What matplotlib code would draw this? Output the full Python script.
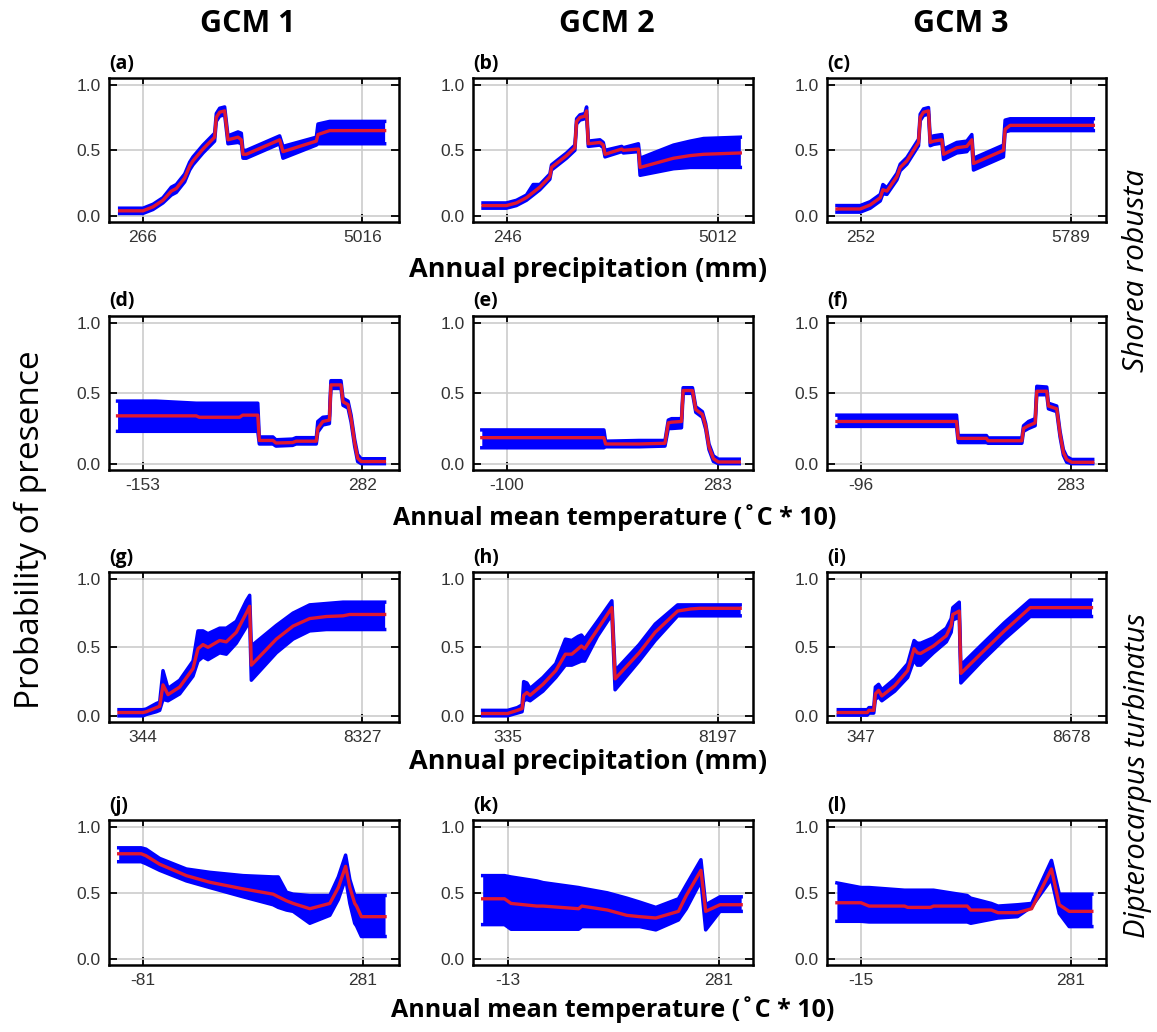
import numpy as np
import matplotlib
matplotlib.use('Agg')
import matplotlib.pyplot as plt

plt.rcParams['axes.unicode_minus'] = False

# response curves: x (variable units), mean, lower, upper
a_x = [-239, 266, 483, 699, 880, 988, 1169, 1277, 1349, 1566, 1818, 1854, 1927, 2035, 2107, 2324, 2396, 2432, 2504, 3226, 3298, 4020, 4056, 4309, 5500]
a_m = [0.04, 0.04, 0.07, 0.12, 0.19, 0.21, 0.29, 0.38, 0.42, 0.51, 0.60, 0.75, 0.79, 0.80, 0.58, 0.60, 0.58, 0.47, 0.47, 0.58, 0.49, 0.57, 0.62, 0.65, 0.65]
a_lo = [0.02, 0.02, 0.05, 0.10, 0.16, 0.18, 0.26, 0.35, 0.39, 0.48, 0.57, 0.72, 0.76, 0.77, 0.55, 0.56, 0.55, 0.44, 0.44, 0.55, 0.44, 0.54, 0.55, 0.55, 0.55]
a_hi = [0.06, 0.06, 0.09, 0.14, 0.22, 0.24, 0.32, 0.41, 0.45, 0.54, 0.63, 0.78, 0.82, 0.83, 0.61, 0.64, 0.63, 0.50, 0.50, 0.61, 0.53, 0.60, 0.70, 0.72, 0.72]

b_x = [-306, 223, 450, 677, 829, 980, 1207, 1245, 1320, 1585, 1774, 1812, 1888, 1999, 2039, 2077, 2341, 2417, 2455, 2833, 2871, 3212, 3249, 4006, 4384, 4687, 5519]
b_m = [0.08, 0.08, 0.10, 0.14, 0.18, 0.22, 0.30, 0.37, 0.39, 0.46, 0.52, 0.72, 0.75, 0.76, 0.80, 0.55, 0.56, 0.54, 0.47, 0.51, 0.50, 0.51, 0.37, 0.44, 0.46, 0.47, 0.48]
b_lo = [0.06, 0.06, 0.08, 0.12, 0.16, 0.20, 0.28, 0.35, 0.37, 0.44, 0.50, 0.70, 0.73, 0.74, 0.77, 0.53, 0.54, 0.52, 0.45, 0.49, 0.48, 0.49, 0.31, 0.36, 0.37, 0.37, 0.37]
b_hi = [0.10, 0.10, 0.12, 0.16, 0.24, 0.24, 0.32, 0.39, 0.41, 0.48, 0.54, 0.74, 0.77, 0.78, 0.83, 0.57, 0.58, 0.56, 0.50, 0.53, 0.52, 0.55, 0.44, 0.54, 0.57, 0.59, 0.60]

c_x = [-381, 234, 498, 762, 832, 938, 1201, 1289, 1465, 1772, 1816, 1904, 2036, 2080, 2168, 2388, 2432, 2783, 3047, 3179, 3223, 4014, 4058, 4190, 6387]
c_m = [0.054, 0.054, 0.085, 0.14, 0.20, 0.19, 0.30, 0.37, 0.42, 0.56, 0.75, 0.79, 0.80, 0.56, 0.57, 0.58, 0.47, 0.52, 0.53, 0.58, 0.40, 0.50, 0.66, 0.69, 0.69]
c_lo = [0.03, 0.03, 0.06, 0.115, 0.17, 0.165, 0.275, 0.345, 0.395, 0.535, 0.725, 0.765, 0.775, 0.535, 0.545, 0.555, 0.43, 0.48, 0.49, 0.54, 0.35, 0.45, 0.64, 0.65, 0.65]
c_hi = [0.08, 0.08, 0.11, 0.165, 0.24, 0.215, 0.325, 0.395, 0.445, 0.585, 0.775, 0.815, 0.825, 0.60, 0.61, 0.62, 0.51, 0.56, 0.57, 0.62, 0.44, 0.54, 0.73, 0.74, 0.74]

d_x = [-203, -127, -47, -41, 39, 45, 75, 78, 105, 111, 144, 151, 191, 194, 204, 217, 220, 240, 244, 254, 260, 267, 273, 280, 326]
d_m = [0.34, 0.34, 0.34, 0.33, 0.33, 0.345, 0.345, 0.165, 0.165, 0.147, 0.15, 0.16, 0.16, 0.25, 0.30, 0.31, 0.56, 0.56, 0.44, 0.42, 0.32, 0.15, 0.04, 0.015, 0.015]
d_lo = [0.23, 0.23, 0.23, 0.23, 0.23, 0.23, 0.23, 0.14, 0.14, 0.125, 0.13, 0.14, 0.14, 0.225, 0.275, 0.285, 0.535, 0.535, 0.415, 0.395, 0.295, 0.125, 0.015, 0.0, 0.0]
d_hi = [0.445, 0.445, 0.43, 0.43, 0.43, 0.43, 0.43, 0.19, 0.19, 0.17, 0.175, 0.185, 0.185, 0.30, 0.33, 0.335, 0.59, 0.59, 0.465, 0.445, 0.345, 0.175, 0.065, 0.035, 0.035]

e_x = [-146, 76, 79, 140, 187, 193, 199, 217, 220, 237, 243, 255, 261, 267, 275, 284, 322]
e_m = [0.185, 0.185, 0.14, 0.14, 0.145, 0.29, 0.295, 0.30, 0.52, 0.52, 0.385, 0.35, 0.265, 0.12, 0.036, 0.012, 0.012]
e_lo = [0.113, 0.113, 0.12, 0.12, 0.125, 0.25, 0.25, 0.255, 0.50, 0.50, 0.365, 0.33, 0.245, 0.10, 0.016, 0.0, 0.0]
e_hi = [0.24, 0.24, 0.16, 0.165, 0.165, 0.31, 0.32, 0.32, 0.54, 0.54, 0.405, 0.37, 0.285, 0.14, 0.056, 0.032, 0.032]

f_x = [-139, 77, 80, 131, 134, 195, 198, 207, 219, 222, 240, 243, 258, 264, 270, 276, 285, 323]
f_m = [0.30, 0.30, 0.18, 0.18, 0.163, 0.163, 0.25, 0.27, 0.29, 0.515, 0.515, 0.41, 0.39, 0.21, 0.08, 0.03, 0.01, 0.01]
f_lo = [0.265, 0.265, 0.15, 0.15, 0.145, 0.145, 0.23, 0.25, 0.27, 0.49, 0.49, 0.39, 0.37, 0.19, 0.06, 0.01, 0.0, 0.0]
f_hi = [0.345, 0.345, 0.20, 0.20, 0.183, 0.183, 0.27, 0.30, 0.32, 0.55, 0.545, 0.43, 0.41, 0.23, 0.10, 0.05, 0.03, 0.03]

g_x = [-529, 344, 465, 829, 951, 1072, 1254, 1678, 2164, 2345, 2527, 2709, 3134, 3377, 3740, 4104, 4226, 4286, 5196, 5803, 6409, 7016, 7622, 7865, 9138]
g_m = [0.024, 0.024, 0.03, 0.06, 0.07, 0.226, 0.155, 0.21, 0.345, 0.49, 0.52, 0.50, 0.55, 0.54, 0.61, 0.75, 0.80, 0.37, 0.56, 0.655, 0.71, 0.725, 0.73, 0.74, 0.74]
g_lo = [0.0, 0.0, 0.01, 0.03, 0.04, 0.12, 0.11, 0.16, 0.29, 0.40, 0.43, 0.41, 0.46, 0.45, 0.53, 0.65, 0.70, 0.26, 0.46, 0.56, 0.62, 0.63, 0.63, 0.63, 0.63]
g_hi = [0.045, 0.045, 0.05, 0.09, 0.10, 0.33, 0.20, 0.26, 0.40, 0.62, 0.62, 0.60, 0.64, 0.64, 0.69, 0.84, 0.88, 0.51, 0.66, 0.75, 0.81, 0.82, 0.83, 0.83, 0.83]

h_x = [-601, 335, 695, 875, 935, 1055, 1175, 1655, 2135, 2495, 2735, 2975, 3095, 3215, 3695, 4235, 4355, 5255, 5855, 6695, 7175, 7535, 9035]
h_m = [0.017, 0.017, 0.04, 0.053, 0.15, 0.17, 0.15, 0.23, 0.33, 0.45, 0.45, 0.49, 0.51, 0.49, 0.63, 0.79, 0.27, 0.46, 0.61, 0.765, 0.78, 0.785, 0.785]
h_lo = [0.0, 0.0, 0.02, 0.03, 0.11, 0.12, 0.11, 0.18, 0.28, 0.37, 0.37, 0.39, 0.40, 0.40, 0.58, 0.74, 0.19, 0.40, 0.55, 0.73, 0.73, 0.73, 0.73]
h_hi = [0.04, 0.04, 0.06, 0.08, 0.25, 0.24, 0.20, 0.28, 0.38, 0.56, 0.55, 0.58, 0.59, 0.56, 0.69, 0.84, 0.33, 0.52, 0.67, 0.81, 0.81, 0.81, 0.81]

i_x = [-546, 602, 666, 857, 921, 1049, 1176, 1687, 2197, 2452, 2580, 2708, 3218, 3728, 3920, 3984, 4239, 4303, 5132, 6025, 7046, 9470]
i_m = [0.024, 0.024, 0.04, 0.04, 0.16, 0.186, 0.145, 0.22, 0.33, 0.49, 0.46, 0.455, 0.51, 0.585, 0.66, 0.74, 0.765, 0.31, 0.46, 0.62, 0.79, 0.79]
i_lo = [0.005, 0.005, 0.02, 0.02, 0.12, 0.14, 0.11, 0.18, 0.28, 0.41, 0.37, 0.37, 0.46, 0.54, 0.61, 0.70, 0.72, 0.24, 0.40, 0.56, 0.725, 0.725]
i_hi = [0.045, 0.045, 0.06, 0.06, 0.21, 0.23, 0.19, 0.27, 0.38, 0.55, 0.53, 0.53, 0.57, 0.64, 0.71, 0.79, 0.83, 0.37, 0.52, 0.68, 0.845, 0.845]

j_x = [-121, -84, -76, -53.5, -9.5, 29, 84, 133.5, 142, 155.5, 166.5, 194, 227, 241, 253, 260, 268, 271, 279, 318]
j_m = [0.795, 0.795, 0.78, 0.716, 0.63, 0.58, 0.53, 0.49, 0.47, 0.44, 0.42, 0.38, 0.42, 0.54, 0.70, 0.54, 0.42, 0.40, 0.32, 0.32]
j_lo = [0.735, 0.735, 0.72, 0.67, 0.59, 0.54, 0.47, 0.41, 0.39, 0.37, 0.36, 0.27, 0.33, 0.45, 0.61, 0.42, 0.27, 0.25, 0.17, 0.17]
j_hi = [0.84, 0.84, 0.83, 0.76, 0.68, 0.655, 0.63, 0.62, 0.62, 0.505, 0.49, 0.48, 0.48, 0.62, 0.785, 0.60, 0.48, 0.48, 0.48, 0.48]

k_x = [-48, -17.5, -8.5, 27.4, 36.4, 85.8, 90.3, 126, 153, 171, 193.5, 225, 236, 256.4, 263, 283, 312.5]
k_m = [0.455, 0.455, 0.42, 0.40, 0.40, 0.38, 0.40, 0.37, 0.33, 0.32, 0.31, 0.36, 0.48, 0.67, 0.36, 0.41, 0.41]
k_lo = [0.26, 0.26, 0.225, 0.225, 0.225, 0.225, 0.245, 0.245, 0.245, 0.245, 0.22, 0.295, 0.38, 0.59, 0.22, 0.36, 0.36]
k_hi = [0.63, 0.63, 0.62, 0.59, 0.577, 0.54, 0.535, 0.50, 0.46, 0.43, 0.39, 0.455, 0.56, 0.75, 0.41, 0.47, 0.47]

l_x = [-49, -15, -3.6, 46.5, 51, 83, 87.5, 135, 140, 169, 178.5, 206, 226, 254, 265, 279, 311]
l_m = [0.425, 0.425, 0.40, 0.40, 0.39, 0.39, 0.40, 0.40, 0.37, 0.37, 0.35, 0.35, 0.38, 0.68, 0.41, 0.36, 0.36]
l_lo = [0.285, 0.285, 0.28, 0.28, 0.28, 0.28, 0.28, 0.28, 0.27, 0.30, 0.31, 0.32, 0.395, 0.605, 0.345, 0.245, 0.245]
l_hi = [0.575, 0.54, 0.54, 0.52, 0.52, 0.52, 0.52, 0.48, 0.46, 0.42, 0.40, 0.41, 0.42, 0.745, 0.49, 0.49, 0.49]

# tick values (min / max of variable) shown under each panel
xticks = {'a': [266, 5016], 'b': [246, 5012], 'c': [252, 5789],
          'd': [-153, 282], 'e': [-100, 283], 'f': [-96, 283],
          'g': [344, 8327], 'h': [335, 8197], 'i': [347, 8678],
          'j': [-81, 281], 'k': [-13, 281], 'l': [-15, 281]}
xlims = {'a': (-470, 5811), 'b': (-533, 5806), 'c': (-644, 6721),
         'd': (-220, 355), 'e': (-162, 347), 'f': (-157, 347),
         'g': (-893, 9660), 'h': (-961, 9515), 'i': (-993, 10045),
         'j': (-137, 341), 'k': (-61.5, 329), 'l': (-63, 331)}

curves = {'a': (a_x, a_m, a_lo, a_hi), 'b': (b_x, b_m, b_lo, b_hi), 'c': (c_x, c_m, c_lo, c_hi),
          'd': (d_x, d_m, d_lo, d_hi), 'e': (e_x, e_m, e_lo, e_hi), 'f': (f_x, f_m, f_lo, f_hi),
          'g': (g_x, g_m, g_lo, g_hi), 'h': (h_x, h_m, h_lo, h_hi), 'i': (i_x, i_m, i_lo, i_hi),
          'j': (j_x, j_m, j_lo, j_hi), 'k': (k_x, k_m, k_lo, k_hi), 'l': (l_x, l_m, l_lo, l_hi)}

W, H = 1157, 1032
col_left = [109, 473, 827]
col_w = [290, 280, 279]
row_top = [78, 316, 572, 820]
row_h = [144, 154, 150, 145]

lab_font = 'Open Sans'
tick_font = 'Liberation Sans'

fig = plt.figure(figsize=(W / 100, H / 100), dpi=100)

letters = 'abcdefghijkl'
for r in range(4):
    for c in range(3):
        key = letters[r * 3 + c]
        x, m, lo, hi = curves[key]
        ax = fig.add_axes([col_left[c] / W, 1 - (row_top[r] + row_h[r]) / H,
                           col_w[c] / W, row_h[r] / H])
        ax.fill_between(x, lo, hi, color='#0000ff', lw=0, zorder=2)
        ax.plot(x, lo, color='#0000ff', lw=2.5, zorder=2)
        ax.plot(x, hi, color='#0000ff', lw=2.5, zorder=2)
        ax.plot(x, m, color='#e01830', lw=2.4, zorder=3)
        ax.set_xlim(*xlims[key])
        ax.set_ylim(-0.045, 1.05)
        ax.set_xticks(xticks[key])
        ax.set_yticks([0.0, 0.5, 1.0])
        ax.set_yticklabels(['0.0', '0.5', '1.0'])
        ax.grid(True, color='#cccccc', lw=1.2, zorder=1)
        ax.tick_params(direction='in', length=6, width=1.3, top=True, right=True,
                       labelsize=12.5, labelcolor='#333333', pad=6)
        for lab in ax.get_xticklabels() + ax.get_yticklabels():
            lab.set_family(tick_font)
        for s in ax.spines.values():
            s.set_linewidth(1.8)
        ax.text(0.0, 1.03, '(' + key + ')', transform=ax.transAxes, fontsize=14,
                fontweight='bold', family=lab_font, ha='left', va='bottom')

for c, name in enumerate(['GCM 1', 'GCM 2', 'GCM 3']):
    fig.text((col_left[c] + col_w[c] / 2 - 6) / W, 1 - 24 / H, name, fontsize=22,
             fontweight='bold', family=lab_font, ha='center', va='center')

xlabels = ['Annual precipitation (mm)', 'Annual mean temperature (\u02daC * 10)',
           'Annual precipitation (mm)', 'Annual mean temperature (\u02daC * 10)']
xlab_y = [270, 518, 762, 1010]
xlab_x = [588, 615, 588, 613]
xlab_size = [19.5, 18, 19.5, 18]
for r in range(4):
    fig.text(xlab_x[r] / W, 1 - xlab_y[r] / H, xlabels[r], fontsize=xlab_size[r],
             fontweight='bold', family=lab_font, ha='center', va='center')

fig.text(30 / W, 1 - 530 / H, 'Probability of presence', fontsize=24, rotation=90,
         family=lab_font, ha='center', va='center')
fig.text(1137 / W, 1 - 270 / H, 'Shorea robusta', fontsize=21.5, rotation=90,
         style='italic', family=lab_font, ha='center', va='center')
fig.text(1137 / W, 1 - 775 / H, 'Dipterocarpus turbinatus', fontsize=21, rotation=90,
         style='italic', family=lab_font, ha='center', va='center')

fig.savefig('out.png', dpi=100)
plt.close(fig)
